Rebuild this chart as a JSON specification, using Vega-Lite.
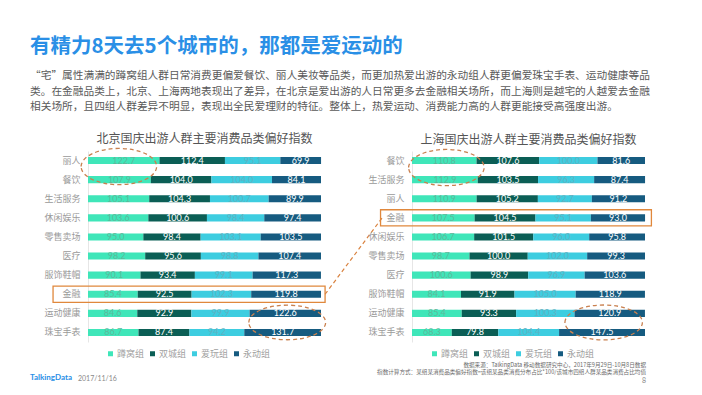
{
  "$schema": "https://vega.github.io/schema/vega-lite/v6.json",
  "background": "white",
  "padding": {"left": 30, "top": 36, "right": 20, "bottom": 8},
  "title": {
    "text": "有精力8天去5个城市的，那都是爱运动的",
    "subtitle": [
      "“宅”属性满满的蹲窝组人群日常消费更偏爱餐饮、丽人美妆等品类，而更加热爱出游的永动组人群更偏爱珠宝手表、运动健康等品",
      "类。在金融品类上，北京、上海两地表现出了差异，在北京是爱出游的人日常更多去金融相关场所，而上海则是越宅的人越爱去金融",
      "相关场所，且四组人群差异不明显，表现出全民爱理财的特征。整体上，热爱运动、消费能力高的人群更能接受高强度出游。"
    ],
    "anchor": "start",
    "frame": "group",
    "dx": -58,
    "font": "Noto Sans CJK SC",
    "fontSize": 20.5,
    "fontWeight": "bold",
    "color": "#2a8fe6",
    "subtitleFont": "Noto Sans CJK SC",
    "subtitleFontSize": 10.7,
    "subtitleColor": "#595959",
    "subtitleLineHeight": 15.5,
    "subtitlePadding": 14,
    "offset": 21
  },
  "datasets": {
    "bj": [
      {"c": "丽人", "g": "蹲窝组", "o": 1, "v": 122.7}, {"c": "丽人", "g": "双城组", "o": 2, "v": 112.4}, {"c": "丽人", "g": "爱玩组", "o": 3, "v": 95.1}, {"c": "丽人", "g": "永动组", "o": 4, "v": 69.9},
      {"c": "餐饮", "g": "蹲窝组", "o": 1, "v": 107.9}, {"c": "餐饮", "g": "双城组", "o": 2, "v": 104.0}, {"c": "餐饮", "g": "爱玩组", "o": 3, "v": 104.0}, {"c": "餐饮", "g": "永动组", "o": 4, "v": 84.1},
      {"c": "生活服务", "g": "蹲窝组", "o": 1, "v": 105.1}, {"c": "生活服务", "g": "双城组", "o": 2, "v": 104.3}, {"c": "生活服务", "g": "爱玩组", "o": 3, "v": 100.7}, {"c": "生活服务", "g": "永动组", "o": 4, "v": 89.9},
      {"c": "休闲娱乐", "g": "蹲窝组", "o": 1, "v": 103.6}, {"c": "休闲娱乐", "g": "双城组", "o": 2, "v": 100.6}, {"c": "休闲娱乐", "g": "爱玩组", "o": 3, "v": 98.4}, {"c": "休闲娱乐", "g": "永动组", "o": 4, "v": 97.4},
      {"c": "零售卖场", "g": "蹲窝组", "o": 1, "v": 95.0}, {"c": "零售卖场", "g": "双城组", "o": 2, "v": 98.4}, {"c": "零售卖场", "g": "爱玩组", "o": 3, "v": 103.1}, {"c": "零售卖场", "g": "永动组", "o": 4, "v": 103.5},
      {"c": "医疗", "g": "蹲窝组", "o": 1, "v": 98.2}, {"c": "医疗", "g": "双城组", "o": 2, "v": 95.6}, {"c": "医疗", "g": "爱玩组", "o": 3, "v": 98.8}, {"c": "医疗", "g": "永动组", "o": 4, "v": 107.4},
      {"c": "服饰鞋帽", "g": "蹲窝组", "o": 1, "v": 90.1}, {"c": "服饰鞋帽", "g": "双城组", "o": 2, "v": 93.4}, {"c": "服饰鞋帽", "g": "爱玩组", "o": 3, "v": 99.1}, {"c": "服饰鞋帽", "g": "永动组", "o": 4, "v": 117.3},
      {"c": "金融", "g": "蹲窝组", "o": 1, "v": 85.4}, {"c": "金融", "g": "双城组", "o": 2, "v": 92.5}, {"c": "金融", "g": "爱玩组", "o": 3, "v": 102.3}, {"c": "金融", "g": "永动组", "o": 4, "v": 119.8},
      {"c": "运动健康", "g": "蹲窝组", "o": 1, "v": 84.6}, {"c": "运动健康", "g": "双城组", "o": 2, "v": 92.9}, {"c": "运动健康", "g": "爱玩组", "o": 3, "v": 99.9}, {"c": "运动健康", "g": "永动组", "o": 4, "v": 122.6},
      {"c": "珠宝手表", "g": "蹲窝组", "o": 1, "v": 86.7}, {"c": "珠宝手表", "g": "双城组", "o": 2, "v": 87.4}, {"c": "珠宝手表", "g": "爱玩组", "o": 3, "v": 94.2}, {"c": "珠宝手表", "g": "永动组", "o": 4, "v": 131.7}
    ],
    "sh": [
      {"c": "餐饮", "g": "蹲窝组", "o": 1, "v": 110.8}, {"c": "餐饮", "g": "双城组", "o": 2, "v": 107.6}, {"c": "餐饮", "g": "爱玩组", "o": 3, "v": 100.0}, {"c": "餐饮", "g": "永动组", "o": 4, "v": 81.6},
      {"c": "生活服务", "g": "蹲窝组", "o": 1, "v": 112.9}, {"c": "生活服务", "g": "双城组", "o": 2, "v": 103.5}, {"c": "生活服务", "g": "爱玩组", "o": 3, "v": 96.3}, {"c": "生活服务", "g": "永动组", "o": 4, "v": 87.4},
      {"c": "丽人", "g": "蹲窝组", "o": 1, "v": 110.9}, {"c": "丽人", "g": "双城组", "o": 2, "v": 105.2}, {"c": "丽人", "g": "爱玩组", "o": 3, "v": 92.7}, {"c": "丽人", "g": "永动组", "o": 4, "v": 91.2},
      {"c": "金融", "g": "蹲窝组", "o": 1, "v": 107.5}, {"c": "金融", "g": "双城组", "o": 2, "v": 104.5}, {"c": "金融", "g": "爱玩组", "o": 3, "v": 95.1}, {"c": "金融", "g": "永动组", "o": 4, "v": 93.0},
      {"c": "休闲娱乐", "g": "蹲窝组", "o": 1, "v": 106.7}, {"c": "休闲娱乐", "g": "双城组", "o": 2, "v": 101.5}, {"c": "休闲娱乐", "g": "爱玩组", "o": 3, "v": 96.0}, {"c": "休闲娱乐", "g": "永动组", "o": 4, "v": 95.8},
      {"c": "零售卖场", "g": "蹲窝组", "o": 1, "v": 98.7}, {"c": "零售卖场", "g": "双城组", "o": 2, "v": 100.0}, {"c": "零售卖场", "g": "爱玩组", "o": 3, "v": 102.0}, {"c": "零售卖场", "g": "永动组", "o": 4, "v": 99.3},
      {"c": "医疗", "g": "蹲窝组", "o": 1, "v": 100.6}, {"c": "医疗", "g": "双城组", "o": 2, "v": 98.9}, {"c": "医疗", "g": "爱玩组", "o": 3, "v": 96.9}, {"c": "医疗", "g": "永动组", "o": 4, "v": 103.6},
      {"c": "服饰鞋帽", "g": "蹲窝组", "o": 1, "v": 84.1}, {"c": "服饰鞋帽", "g": "双城组", "o": 2, "v": 91.9}, {"c": "服饰鞋帽", "g": "爱玩组", "o": 3, "v": 105.0}, {"c": "服饰鞋帽", "g": "永动组", "o": 4, "v": 118.9},
      {"c": "运动健康", "g": "蹲窝组", "o": 1, "v": 85.4}, {"c": "运动健康", "g": "双城组", "o": 2, "v": 93.3}, {"c": "运动健康", "g": "爱玩组", "o": 3, "v": 100.3}, {"c": "运动健康", "g": "永动组", "o": 4, "v": 120.9},
      {"c": "珠宝手表", "g": "蹲窝组", "o": 1, "v": 68.3}, {"c": "珠宝手表", "g": "双城组", "o": 2, "v": 79.8}, {"c": "珠宝手表", "g": "爱玩组", "o": 3, "v": 104.4}, {"c": "珠宝手表", "g": "永动组", "o": 4, "v": 147.5}
    ]
  },
  "vconcat": [
    {
      "hconcat": [
        {
          "width": 233,
          "height": 191,
          "title": {"text": "北京国庆出游人群主要消费品类偏好指数", "font": "Noto Sans CJK SC", "fontSize": 12, "fontWeight": "normal", "color": "#555555", "anchor": "middle", "offset": 0},
          "layer": [
            {
              "data": {"name": "bj"},
              "mark": {"type": "bar", "height": {"band": 0.37}},
              "encoding": {
                "y": {"field": "c", "type": "nominal", "sort": null, "scale": {"domain": ["丽人", "餐饮", "生活服务", "休闲娱乐", "零售卖场", "医疗", "服饰鞋帽", "金融", "运动健康", "珠宝手表"], "paddingInner": 0, "paddingOuter": 0},
                  "axis": {"title": null, "ticks": false, "labelFontSize": 9, "labelColor": "#9a9a9a", "labelPadding": 8, "domainColor": "#e6e6e6", "labelFont": "Noto Sans CJK SC"}},
                "x": {"field": "v", "type": "quantitative", "stack": "zero", "scale": {"domain": [0, 400], "nice": false}, "axis": null},
                "color": {"field": "g", "type": "nominal", "scale": {"domain": ["蹲窝组", "双城组", "爱玩组", "永动组"], "range": ["#3fe6b9", "#0b5e55", "#3dcde0", "#165b80"]},
                  "legend": {"title": null, "orient": "none", "legendX": 18, "legendY": 198, "direction": "horizontal", "symbolType": "square", "symbolSize": 25, "labelFontSize": 9, "labelColor": "#a0a0a0", "labelFont": "Noto Sans CJK SC", "columnPadding": 3, "labelOffset": 2}},
                "order": {"field": "o", "type": "quantitative"}
              }
            },
            {
              "data": {"name": "bj"},
              "mark": {"type": "text", "fontSize": 9, "font": "Lato"},
              "encoding": {
                "y": {"field": "c", "type": "nominal", "sort": null},
                "x": {"field": "v", "type": "quantitative", "stack": "zero", "bandPosition": 0.5},
                "order": {"field": "o", "type": "quantitative"},
                "text": {"field": "v", "type": "quantitative", "format": ".1f"},
                "color": {"condition": [{"test": "datum.o == 2 || datum.o == 4", "value": "#ffffff"}, {"test": "datum.o == 1", "value": "#5cb99b"}], "value": "#5fb2c2"}
              }
            },
            {
              "data": {"values": [{}]},
              "mark": {"type": "point", "shape": "M-1,0A1,0.48,0,1,1,1,0A1,0.48,0,1,1,-1,0Z", "size": 5700, "filled": false, "color": "#c9804f", "opacity": 1, "strokeWidth": 1.3, "strokeDash": [4, 3], "yOffset": 6},
              "encoding": {"x": {"datum": 53}, "y": {"datum": "丽人", "type": "nominal"}}
            },
            {
              "data": {"values": [{}]},
              "mark": {"type": "point", "shape": "M-1,0A1,0.45,0,1,1,1,0A1,0.45,0,1,1,-1,0Z", "size": 5900, "filled": false, "color": "#c9804f", "opacity": 1, "strokeWidth": 1.3, "strokeDash": [4, 3], "yOffset": -10},
              "encoding": {"x": {"datum": 342}, "y": {"datum": "珠宝手表", "type": "nominal"}}
            },
            {
              "data": {"values": [{}]},
              "mark": {"type": "bar", "height": {"band": 0.85}, "fillOpacity": 0, "stroke": "#e0883c", "strokeWidth": 1.3},
              "encoding": {"x": {"datum": -60}, "x2": {"datum": 407}, "y": {"datum": "金融", "type": "nominal"}}
            },
            {
              "data": {"values": [{}]},
              "mark": {"type": "rule", "color": "#d9823f", "strokeWidth": 1.2, "strokeDash": [4, 3]},
              "encoding": {"x": {"datum": 407}, "x2": {"datum": 505}, "y": {"datum": "金融", "type": "nominal"}, "y2": {"datum": "休闲娱乐"}}
            }
          ]
        },
        {
          "width": 233,
          "height": 191,
          "title": {"text": "上海国庆出游人群主要消费品类偏好指数", "font": "Noto Sans CJK SC", "fontSize": 12, "fontWeight": "normal", "color": "#555555", "anchor": "middle", "offset": 0},
          "layer": [
            {
              "data": {"name": "sh"},
              "mark": {"type": "bar", "height": {"band": 0.37}},
              "encoding": {
                "y": {"field": "c", "type": "nominal", "sort": null, "scale": {"domain": ["餐饮", "生活服务", "丽人", "金融", "休闲娱乐", "零售卖场", "医疗", "服饰鞋帽", "运动健康", "珠宝手表"], "paddingInner": 0, "paddingOuter": 0},
                  "axis": {"title": null, "ticks": false, "labelFontSize": 9, "labelColor": "#9a9a9a", "labelPadding": 8, "domainColor": "#e6e6e6", "labelFont": "Noto Sans CJK SC"}},
                "x": {"field": "v", "type": "quantitative", "stack": "zero", "scale": {"domain": [0, 400], "nice": false}, "axis": null},
                "color": {"field": "g", "type": "nominal", "scale": {"domain": ["蹲窝组", "双城组", "爱玩组", "永动组"], "range": ["#3fe6b9", "#0b5e55", "#3dcde0", "#165b80"]},
                  "legend": {"title": null, "orient": "none", "legendX": 18, "legendY": 198, "direction": "horizontal", "symbolType": "square", "symbolSize": 25, "labelFontSize": 9, "labelColor": "#a0a0a0", "labelFont": "Noto Sans CJK SC", "columnPadding": 3, "labelOffset": 2}},
                "order": {"field": "o", "type": "quantitative"}
              }
            },
            {
              "data": {"name": "sh"},
              "mark": {"type": "text", "fontSize": 9, "font": "Lato"},
              "encoding": {
                "y": {"field": "c", "type": "nominal", "sort": null},
                "x": {"field": "v", "type": "quantitative", "stack": "zero", "bandPosition": 0.5},
                "order": {"field": "o", "type": "quantitative"},
                "text": {"field": "v", "type": "quantitative", "format": ".1f"},
                "color": {"condition": [{"test": "datum.o == 2 || datum.o == 4", "value": "#ffffff"}, {"test": "datum.o == 1", "value": "#5cb99b"}], "value": "#5fb2c2"}
              }
            },
            {
              "data": {"values": [{}]},
              "mark": {"type": "point", "shape": "M-1,0A1,0.48,0,1,1,1,0A1,0.48,0,1,1,-1,0Z", "size": 5700, "filled": false, "color": "#c9804f", "opacity": 1, "strokeWidth": 1.3, "strokeDash": [4, 3], "yOffset": 7},
              "encoding": {"x": {"datum": 59}, "y": {"datum": "餐饮", "type": "nominal"}}
            },
            {
              "data": {"values": [{}]},
              "mark": {"type": "point", "shape": "M-1,0A1,0.45,0,1,1,1,0A1,0.45,0,1,1,-1,0Z", "size": 6000, "filled": false, "color": "#c9804f", "opacity": 1, "strokeWidth": 1.3, "strokeDash": [4, 3], "yOffset": -10},
              "encoding": {"x": {"datum": 329}, "y": {"datum": "珠宝手表", "type": "nominal"}}
            },
            {
              "data": {"values": [{}]},
              "mark": {"type": "bar", "height": {"band": 0.85}, "fillOpacity": 0, "stroke": "#e0883c", "strokeWidth": 1.3},
              "encoding": {"x": {"datum": -54}, "x2": {"datum": 411}, "y": {"datum": "金融", "type": "nominal"}}
            }
          ]
        }
      ],
      "spacing": 91,
      "bounds": "flush",
      "resolve": {"scale": {"x": "independent", "y": "independent", "color": "independent"}, "legend": {"color": "independent"}}
    },
    {
      "hconcat": [
        {
          "width": 1, "height": 1, "data": {"values": []}, "mark": "point", "encoding": {},
          "title": {"text": "TalkingData", "orient": "bottom", "anchor": "start", "frame": "group", "dx": -58, "offset": 16, "font": "Lato", "fontSize": 8, "fontWeight": "bold", "color": "#2a8fe6"}
        },
        {
          "width": 1, "height": 1, "data": {"values": []}, "mark": "point", "encoding": {},
          "title": {"text": "2017/11/16", "orient": "bottom", "anchor": "start", "frame": "group", "dx": -11, "offset": 16.5, "font": "Lato", "fontSize": 7, "fontWeight": "normal", "color": "#8a8a8a"}
        },
        {
          "width": 1, "height": 1, "data": {"values": []}, "mark": "point", "encoding": {},
          "title": {"text": ["数据来源：TalkingData 移动数据研究中心，2017年9月29日-10月8日数据", "指数计算方式：某组某消费品类偏好指数=该组某品类消费分布占比*100/该城市四组人群某品类消费占比均值"], "orient": "bottom", "anchor": "start", "align": "right", "frame": "group", "dx": 556, "offset": 4.5, "lineHeight": 7.6, "font": "Noto Sans CJK SC", "fontSize": 5.6, "fontWeight": "normal", "color": "#6a6a6a"}
        },
        {
          "width": 1, "height": 1, "data": {"values": []}, "mark": "point", "encoding": {},
          "title": {"text": "8", "orient": "bottom", "anchor": "start", "align": "right", "frame": "group", "dx": 555, "offset": 18.5, "font": "Lato", "fontSize": 7, "fontWeight": "normal", "color": "#8a8a8a"}
        }
      ],
      "spacing": 0,
      "bounds": "flush"
    }
  ],
  "spacing": 206,
  "bounds": "flush",
  "config": {"view": {"stroke": null}, "font": "Noto Sans CJK SC"}
}
